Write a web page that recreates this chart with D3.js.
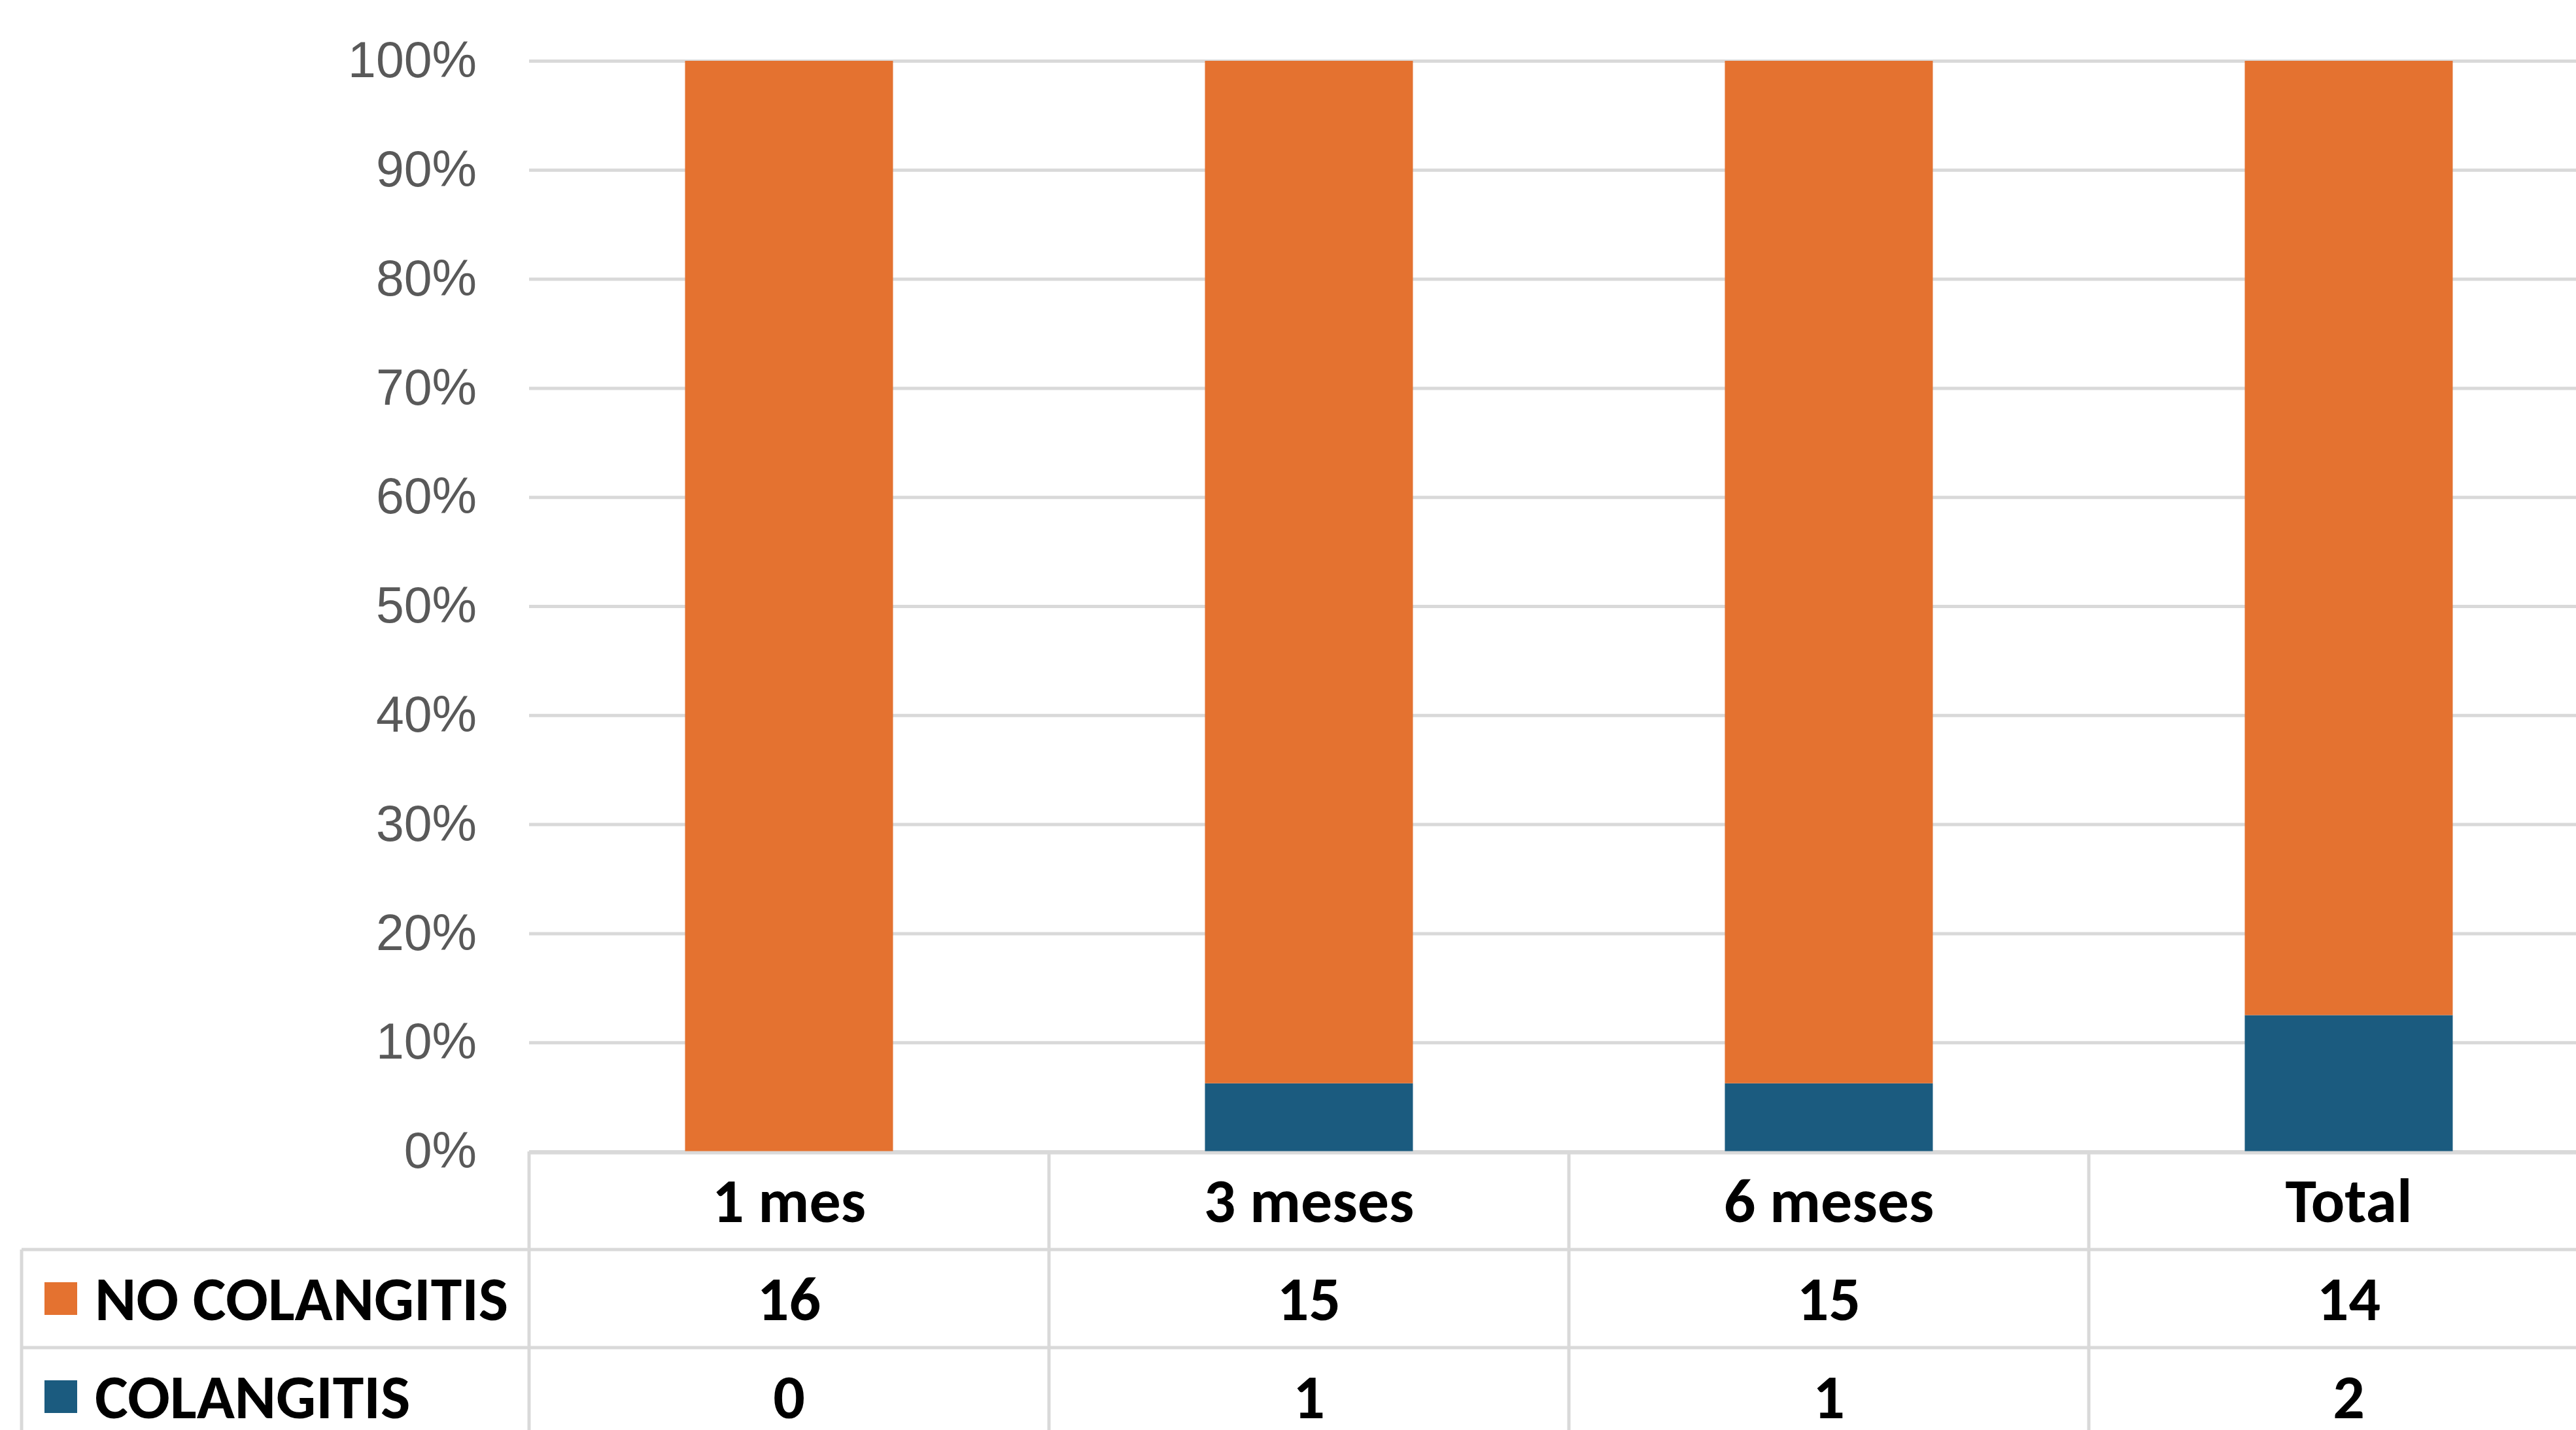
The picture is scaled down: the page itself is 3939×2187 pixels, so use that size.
<!DOCTYPE html>
<html>
<head>
<meta charset="utf-8">
<script src="https://cdn.jsdelivr.net/npm/d3@7"></script>
<style>
  body { margin: 0; background: #fff; }
  svg { display: block; }
</style>
</head>
<body>
<svg id="chart"></svg>
<script>
// data
const categories = ['1 mes', '3 meses', '6 meses', 'Total'];
const seriesNames = ['NO COLANGITIS', 'COLANGITIS'];
const noColangitis = [16, 15, 15, 14];
const colangitis = [0, 1, 1, 2];
const yTickValues = [0, 0.1, 0.2, 0.3, 0.4, 0.5, 0.6, 0.7, 0.8, 0.9, 1];

const colors = {
  'NO COLANGITIS': '#e47230',
  'COLANGITIS': '#1b5b7f'
};

class StackedTable {
  constructor(_config) {
    this.config = {
      parentElement: _config.parentElement,
      width: _config.width || 3939,
      height: _config.height || 2187,
      plotLeft: 809,
      plotTop: 93,
      plotBottom: 1761,
      step: 795,
      rowHeight: 150,
      tableLeft: 33
    };
    this.init();
  }

  init() {
    let vis = this;
    const c = vis.config;

    vis.svg = d3.select(c.parentElement)
      .attr('width', c.width)
      .attr('height', c.height);

    vis.rows = categories.map((cat, i) => ({
      cat: cat,
      'NO COLANGITIS': noColangitis[i],
      'COLANGITIS': colangitis[i]
    }));

    // table columns
    vis.col = d3.scaleBand()
      .domain(categories)
      .range([c.plotLeft, c.plotLeft + c.step * categories.length]);

    // bars take 40% of each column (Excel gap width 150%)
    vis.x = d3.scaleBand()
      .domain(categories)
      .range(vis.col.range())
      .paddingInner(0.6)
      .paddingOuter(0.3);

    vis.y = d3.scaleLinear()
      .domain([0, 1])
      .range([c.plotBottom, c.plotTop]);

    vis.render();
  }

  render() {
    let vis = this;
    const c = vis.config;
    const lineColor = '#d9d9d9';

    // gridlines + y labels
    const yAxis = d3.axisLeft(vis.y)
      .tickValues(yTickValues)
      .tickFormat(d3.format('.0%'))
      .tickSize(-(c.width - c.plotLeft + 100))
      .tickPadding(80);

    vis.svg.append('g')
      .attr('class', 'y-axis')
      .attr('transform', `translate(${c.plotLeft},0)`)
      .call(yAxis)
      .call(g => g.select('.domain').remove())
      .call(g => g.selectAll('.tick line')
        .attr('stroke', lineColor)
        .attr('stroke-width', 5))
      .call(g => g.selectAll('.tick text')
        .attr('fill', '#595959')
        .style('font-family', '"Liberation Sans", Arial, sans-serif')
        .style('font-size', '77px'));

    // stacked bars, blue at the bottom
    const stack = d3.stack()
      .keys(['COLANGITIS', 'NO COLANGITIS'])
      .offset(d3.stackOffsetExpand);

    vis.svg.append('g')
      .selectAll('g')
      .data(stack(vis.rows))
      .join('g')
      .attr('fill', d => colors[d.key])
      .selectAll('rect')
      .data(d => d)
      .join('rect')
      .attr('x', d => vis.x(d.data.cat))
      .attr('width', vis.x.bandwidth())
      .attr('y', d => vis.y(d[1]))
      .attr('height', d => vis.y(d[0]) - vis.y(d[1]));

    // data table under the plot
    const table = vis.svg.append('g').attr('class', 'table');
    const rowTop = i => c.plotBottom + c.rowHeight * i;
    const right = c.width + 50;

    // horizontal lines
    table.append('line')
      .attr('x1', c.plotLeft).attr('x2', right)
      .attr('y1', rowTop(0) + 2).attr('y2', rowTop(0) + 2);
    [1, 2, 3].forEach(i => {
      table.append('line')
        .attr('x1', c.tableLeft).attr('x2', right)
        .attr('y1', rowTop(i)).attr('y2', rowTop(i));
    });
    // vertical lines
    categories.forEach(cat => {
      table.append('line')
        .attr('x1', vis.col(cat)).attr('x2', vis.col(cat))
        .attr('y1', rowTop(0)).attr('y2', rowTop(3) + 40);
    });
    table.append('line')
      .attr('x1', c.tableLeft).attr('x2', c.tableLeft)
      .attr('y1', rowTop(1)).attr('y2', rowTop(3) + 40);
    table.selectAll('line')
      .attr('stroke', lineColor)
      .attr('stroke-width', 5);

    const cellFont = g => g
      .style('font-family', 'Carlito, Calibri, Lato, sans-serif')
      .style('font-weight', 'bold')
      .style('font-size', '96px')
      .attr('fill', '#000')
      .attr('dominant-baseline', 'central');

    // header
    table.selectAll('.head')
      .data(categories)
      .join('text')
      .attr('class', 'head')
      .attr('x', d => vis.col(d) + vis.col.bandwidth() / 2)
      .attr('y', rowTop(0) + c.rowHeight / 2)
      .attr('text-anchor', 'middle')
      .text(d => d)
      .call(cellFont);

    const seriesValues = [noColangitis, colangitis];
    seriesNames.forEach((name, r) => {
      const cy = rowTop(r + 1) + c.rowHeight / 2;
      table.append('rect')
        .attr('x', 68)
        .attr('y', cy - 25)
        .attr('width', 50)
        .attr('height', 50)
        .attr('fill', colors[name]);
      table.append('text')
        .attr('x', 145)
        .attr('y', cy)
        .text(name)
        .call(cellFont);
      table.selectAll('.val-' + r)
        .data(seriesValues[r])
        .join('text')
        .attr('class', 'val-' + r)
        .attr('x', (d, i) => vis.col(categories[i]) + vis.col.bandwidth() / 2)
        .attr('y', cy)
        .attr('text-anchor', 'middle')
        .text(d => d)
        .call(cellFont);
    });
  }
}

new StackedTable({ parentElement: '#chart', width: 3939, height: 2187 });
</script>
</body>
</html>
